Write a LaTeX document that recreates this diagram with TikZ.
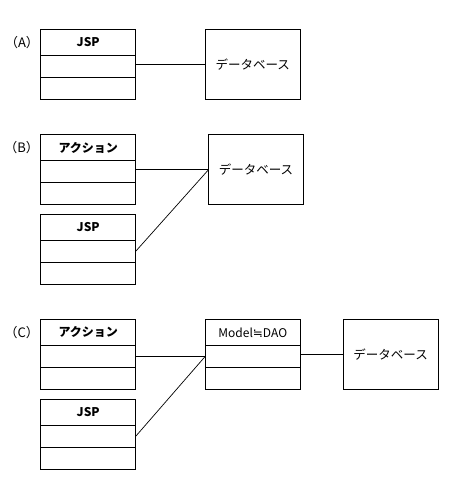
\documentclass[tikz,border=0pt]{standalone}
\usepackage{fontspec}
\setmainfont{Noto Sans CJK JP}
\newfontfamily\symfont{DejaVu Sans}
\usetikzlibrary{positioning}
\tikzset{
  classhead/.style={draw, line width=1pt, outer sep=0pt, inner sep=0pt,
    minimum width=95pt, minimum height=26pt, anchor=north west,
    font=\fontsize{12}{14}\selectfont\bfseries},
  classrow/.style={draw, line width=1pt, outer sep=0pt, inner sep=0pt,
    minimum width=95pt, minimum height=22pt},
  dbbox/.style={draw, line width=1pt, outer sep=0pt, inner sep=0pt,
    minimum width=95pt, minimum height=70pt, anchor=north west,
    font=\fontsize{12.5}{14}\selectfont},
  caselabel/.style={inner sep=0pt, font=\fontsize{13}{15}\selectfont},
  wire/.style={line width=1pt},
  slantwire/.style={line width=0.7pt}
}
\begin{document}
\begin{tikzpicture}[x=1pt, y=-1pt]
  \useasboundingbox (0,0) rectangle (451,498);
  \node[classhead] (ajsp) at (40.7,29.3) {JSP};
  \node[classrow, below=0pt of ajsp] (ajsp2) {};
  \node[classrow, below=0pt of ajsp2] (ajsp3) {};
  \node[dbbox] (adb) at (205.3,29.3) {データベース};
  \node[caselabel, left=1.5pt of ajsp] (acase) {（A）};
  \draw[wire] (ajsp2.east |- adb.west) -- (adb.west);

  \node[classhead] (bact) at (40.7,134.5) {アクション};
  \node[classrow, below=0pt of bact] (bact2) {};
  \node[classrow, below=0pt of bact2] (bact3) {};
  \node[classhead] (bjsp) at (40.7,214.3) {JSP};
  \node[classrow, below=0pt of bjsp] (bjsp2) {};
  \node[classrow, below=0pt of bjsp2] (bjsp3) {};
  \node[dbbox, minimum width=94.6pt] (bdb) at (208.7,134.5) {データベース};
  \node[caselabel, left=1.5pt of bact] (bcase) {（B）};
  \draw[wire] (bact2.east |- bdb.west) -- (bdb.west);
  \draw[slantwire] (bjsp2.east) -- (bdb.west);

  \node[classhead] (cact) at (40.7,319.3) {アクション};
  \node[classrow, below=0pt of cact] (cact2) {};
  \node[classrow, below=0pt of cact2] (cact3) {};
  \node[classhead] (cjsp) at (40.7,399.3) {JSP};
  \node[classrow, below=0pt of cjsp] (cjsp2) {};
  \node[classrow, below=0pt of cjsp2] (cjsp3) {};
  \node[classhead, font=\fontsize{12}{14}\selectfont] (cmod) at (205.3,319.3) {Model{\symfont ≒}DAO};
  \node[classrow, below=0pt of cmod] (cmod2) {};
  \node[classrow, below=0pt of cmod2] (cmod3) {};
  \node[dbbox, minimum width=94.7pt] (cdb) at (343.3,319.3) {データベース};
  \node[caselabel, left=1.5pt of cact] (ccase) {（C）};
  \draw[wire] (cact2.east) -- (cmod2.west);
  \draw[slantwire] (cjsp2.east) -- (cmod2.west);
  \draw[wire] (cmod2.east |- cdb.west) -- (cdb.west);
\end{tikzpicture}
\end{document}
